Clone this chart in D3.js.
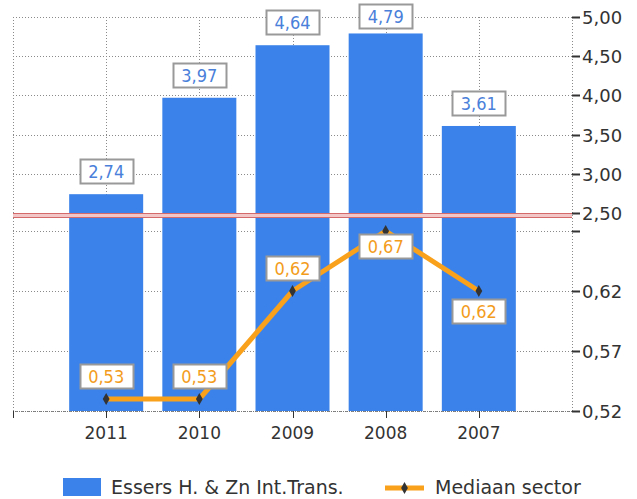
<!DOCTYPE html>
<html>
<head>
<meta charset="utf-8">
<script src="https://cdn.jsdelivr.net/npm/d3@7"></script>
<style>
  body { margin: 0; background: #fff; }
  svg { display: block; font-family: "DejaVu Sans", Verdana, sans-serif; }
</style>
</head>
<body>
<svg></svg>
<script>
// data
let years = ['2011', '2010', '2009', '2008', '2007']
let essers = [2.74, 3.97, 4.64, 4.79, 3.61]
let mediaan = [0.53, 0.53, 0.62, 0.67, 0.62]
let topTicks = [2.5, 3.0, 3.5, 4.0, 4.5, 5.0]
let bottomTicks = [0.52, 0.57, 0.62, 0.67]
// labels of the line: above or below the point
let mediaanLabelPos = ['above', 'above', 'above', 'below', 'below']

let width = 637
let height = 499
let left = 13
let right = 572
let bottom = 411

let svg = d3.select('svg')
    .attr('width', width)
    .attr('height', height)

let fmt = v => d3.format('.2f')(v).replace('.', ',')

// scales (broken axis: top part for bars, bottom part for the line)
let x = d3.scalePoint().domain(years).range([left, right]).padding(1)
let yTop = d3.scaleLinear().domain([2.5, 5]).range([213, 17])
let yBottom = d3.scaleLinear().domain([0.52, 0.67]).range([bottom, 231])

let grid = svg.append('g')
    .attr('stroke', '#8a8a8a')
    .attr('stroke-width', 1)
    .attr('stroke-dasharray', '1,2')

// horizontal gridlines
grid.selectAll('.ht').data(topTicks.filter(d => d > 2.5)).enter()
    .append('line')
    .attr('x1', left).attr('x2', right)
    .attr('y1', d => Math.round(yTop(d)) + 0.5)
    .attr('y2', d => Math.round(yTop(d)) + 0.5)
grid.selectAll('.hb').data(bottomTicks).enter()
    .append('line')
    .attr('x1', left).attr('x2', right)
    .attr('y1', d => Math.round(yBottom(d)) + 0.5)
    .attr('y2', d => Math.round(yBottom(d)) + 0.5)

// vertical gridlines at categories and borders
grid.selectAll('.v').data(years).enter()
    .append('line')
    .attr('x1', d => Math.round(x(d)) + 0.5).attr('x2', d => Math.round(x(d)) + 0.5)
    .attr('y1', yTop(5)).attr('y2', bottom)
grid.append('line')
    .attr('x1', left + 0.5).attr('x2', left + 0.5)
    .attr('y1', yTop(5)).attr('y2', bottom)
grid.append('line')
    .attr('x1', right + 0.5).attr('x2', right + 0.5)
    .attr('y1', yTop(5)).attr('y2', bottom)

// bars
let barW = 74
svg.append('g').selectAll('rect').data(essers).enter()
    .append('rect')
    .attr('x', (v, i) => x(years[i]) - barW / 2)
    .attr('y', v => yTop(v))
    .attr('width', barW)
    .attr('height', v => bottom - yTop(v))
    .attr('fill', '#3b83ea')

// axis break (red double line)
svg.append('rect')
    .attr('x', left).attr('y', 213.5)
    .attr('width', right - left).attr('height', 4)
    .attr('fill', '#f2c6c6')
svg.append('line')
    .attr('x1', left).attr('x2', right)
    .attr('y1', 213.5).attr('y2', 213.5)
    .attr('stroke', '#d46a6a')
svg.append('line')
    .attr('x1', left).attr('x2', right)
    .attr('y1', 217.5).attr('y2', 217.5)
    .attr('stroke', '#d46a6a')

// x axis
let xAxis = svg.append('g')
xAxis.append('line')
    .attr('x1', left).attr('x2', right)
    .attr('y1', bottom + 0.5).attr('y2', bottom + 0.5)
    .attr('stroke', '#777')
    .attr('stroke-dasharray', '1,1')
xAxis.selectAll('.tick').data(years).enter()
    .append('line')
    .attr('x1', d => Math.round(x(d)) + 0.5).attr('x2', d => Math.round(x(d)) + 0.5)
    .attr('y1', bottom).attr('y2', bottom + 7)
    .attr('stroke', '#333')
xAxis.append('line')
    .attr('x1', left + 0.5).attr('x2', left + 0.5)
    .attr('y1', bottom).attr('y2', bottom + 7)
    .attr('stroke', '#333')
xAxis.selectAll('text').data(years).enter()
    .append('text')
    .attr('x', d => x(d))
    .attr('y', 439)
    .attr('text-anchor', 'middle')
    .attr('font-size', 17)
    .attr('fill', '#333')
    .text(d => d)

// right axis
let yAxis = svg.append('g')
let rightTicks = topTicks.map(d => ({y: yTop(d), label: fmt(d)}))
    .concat(bottomTicks.map(d => ({y: yBottom(d), label: d === 0.67 ? '' : fmt(d)})))
yAxis.selectAll('line').data(rightTicks).enter()
    .append('line')
    .attr('x1', right).attr('x2', right + 8)
    .attr('y1', d => Math.round(d.y) + 0.5).attr('y2', d => Math.round(d.y) + 0.5)
    .attr('stroke', '#333')
    .attr('stroke-width', 2)
yAxis.selectAll('text').data(rightTicks).enter()
    .append('text')
    .attr('x', right + 10)
    .attr('y', d => d.y + 7)
    .attr('font-size', 18)
    .attr('fill', '#333')
    .text(d => d.label)

// median line
let line = d3.line()
    .x((v, i) => x(years[i]))
    .y(v => yBottom(v))
svg.append('path')
    .datum(mediaan)
    .attr('fill', 'none')
    .attr('stroke', '#f9a11b')
    .attr('stroke-width', 5)
    .attr('stroke-linejoin', 'round')
    .attr('d', line)

let diamond = d3.symbol().type(d3.symbolDiamond).size(40)
svg.append('g').selectAll('path').data(mediaan).enter()
    .append('path')
    .attr('d', diamond)
    .attr('transform', (v, i) => 'translate(' + x(years[i]) + ',' + yBottom(v) + ')')
    .attr('fill', '#333')

// value labels
function label(g, cx, top, txt, color) {
    let w = 53, h = 24
    g.append('rect')
        .attr('x', Math.round(cx - w / 2) + 0.5)
        .attr('y', Math.round(top) + 0.5)
        .attr('width', w).attr('height', h)
        .attr('fill', '#fff')
        .attr('stroke', '#999')
        .attr('stroke-width', 2)
    g.append('text')
        .attr('x', cx)
        .attr('y', top + 19)
        .attr('text-anchor', 'middle')
        .attr('font-family', '"DejaVu Sans Condensed", "DejaVu Sans", sans-serif')
        .attr('font-size', 18)
        .attr('fill', color)
        .text(txt)
}
let labels = svg.append('g')
essers.forEach((v, i) => {
    label(labels, x(years[i]), Math.max(4, yTop(v) - 35), fmt(v), '#4a80da')
})
mediaan.forEach((v, i) => {
    let top = mediaanLabelPos[i] === 'above' ? yBottom(v) - 35 : yBottom(v) + 3
    if (i === 4) top = yBottom(v) + 8
    label(labels, x(years[i]), top, fmt(v), '#f39c1c')
})

// legend
let legend = svg.append('g')
legend.append('rect')
    .attr('x', 63).attr('y', 478)
    .attr('width', 38).attr('height', 18)
    .attr('fill', '#3b83ea')
legend.append('text')
    .attr('x', 111).attr('y', 494)
    .attr('font-size', 19)
    .attr('fill', '#333')
    .text('Essers H. & Zn Int.Trans.')
legend.append('line')
    .attr('x1', 385).attr('x2', 424)
    .attr('y1', 488).attr('y2', 488)
    .attr('stroke', '#f9a11b')
    .attr('stroke-width', 5)
legend.append('path')
    .attr('d', diamond)
    .attr('transform', 'translate(404.5,488)')
    .attr('fill', '#333')
legend.append('text')
    .attr('x', 435).attr('y', 494)
    .attr('font-size', 19)
    .attr('fill', '#333')
    .text('Mediaan sector')
</script>
</body>
</html>
